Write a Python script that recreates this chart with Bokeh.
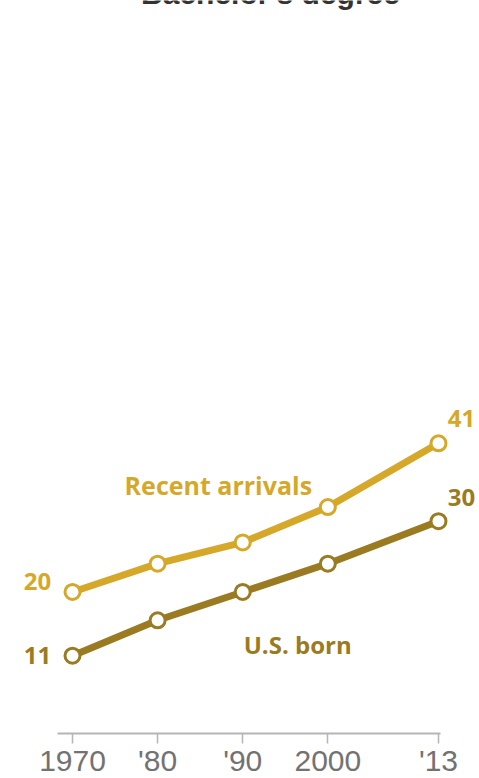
from bokeh.plotting import figure
from bokeh.models import FixedTicker, Range1d, ColumnDataSource
from bokeh.core.properties import value
from bokeh.embed import file_html
from bokeh.resources import INLINE

# ---- data ----
years = [1970, 1980, 1990, 2000, 2013]
recent_arrivals = [20, 24, 27, 32, 41]
us_born = [11, 16, 20, 24, 30]
tick_labels = {1970: "1970", 1980: "'80", 1990: "'90", 2000: "2000", 2013: "'13"}
title_text = "Bachelor's degree"

GOLD = "#d6a82a"
DARK = "#9a7b22"
GRAY = "#727272"

p = figure(
    frame_width=479, frame_height=733,
    x_range=Range1d(1961.54, 2017.82), y_range=Range1d(0, 103.57),
    output_backend="svg", toolbar_location=None,
    min_border_left=0, min_border_right=0, min_border_top=0, min_border_bottom=40,
    outline_line_color=None, background_fill_color="white", border_fill_color="white",
)
p.margin = (0, 0, 0, 0)
p.grid.visible = False
p.yaxis.visible = False

ax = p.xaxis[0]
ax.ticker = FixedTicker(ticks=years)
ax.major_label_overrides = tick_labels
ax.bounds = (1968.2, 2013.2)
ax.axis_line_color = "#b5b5b5"
ax.axis_line_width = 2
ax.major_tick_line_color = "#b5b5b5"
ax.major_tick_line_width = 1.5
ax.major_tick_in = 0
ax.major_tick_out = 10
ax.minor_tick_line_color = None
ax.major_label_standoff = 0
ax.major_label_text_font = "Liberation Sans"
ax.major_label_text_font_size = "30px"
ax.major_label_text_color = GRAY

src_r = ColumnDataSource(dict(x=years, y=recent_arrivals))
src_u = ColumnDataSource(dict(x=years, y=us_born))

p.line("x", "y", source=src_u, line_color=DARK, line_width=7)
p.scatter("x", "y", source=src_u, size=15, fill_color="white", line_color=DARK, line_width=3)
p.line("x", "y", source=src_r, line_color=GOLD, line_width=7)
p.scatter("x", "y", source=src_r, size=15, fill_color="white", line_color=GOLD, line_width=3)

FONT = value("Open Sans")

def label(xv, yv, txt, color, dx, dy, align="center", size="24px"):
    p.text(x=[xv], y=[yv], text=[txt], text_color=color, text_font=FONT,
           text_font_style="bold", text_font_size=size, text_align=align,
           text_baseline="alphabetic", x_offset=dx, y_offset=dy)

# end-point values
label(years[-1], recent_arrivals[-1], str(recent_arrivals[-1]), GOLD, 23, -25)
label(years[-1], us_born[-1], str(us_born[-1]), DARK, 23, -24)
label(years[0], recent_arrivals[0], str(recent_arrivals[0]), GOLD, -35, -10)
label(years[0], us_born[0], str(us_born[0]), DARK, -35, 0)
# series names
label(years[1], recent_arrivals[1], "Recent arrivals", GOLD, -33, -79, align="left", size="25px")
label(years[2], us_born[2], "U.S. born", DARK, 1, 53, align="left")

# clipped title at the very top
p.text(x=[1961.54 + 270 / 8.5116], y=[103.57], text=[title_text], text_color="#333333",
       text_font=value("Liberation Sans"), text_font_style="bold", text_font_size="30px",
       text_align="center", text_baseline="alphabetic", y_offset=-7)

open("out.html", "w").write(file_html(p, INLINE))
